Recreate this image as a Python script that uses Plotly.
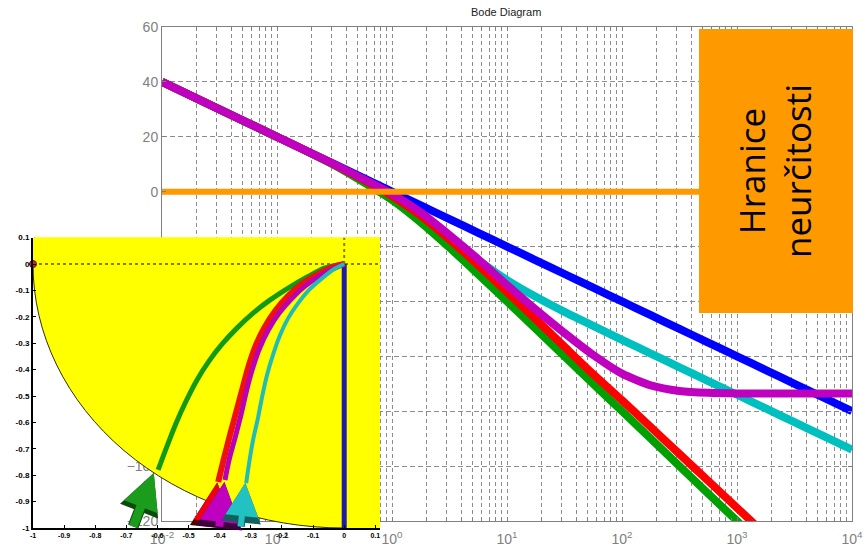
import plotly.graph_objects as go

# ---------------- Bode magnitude data (dB) ----------------
omega = [0.01, 0.0316, 0.1, 0.316, 1.0, 1.78, 3.16, 5.62, 10.0, 17.8, 31.6, 56.2,
         100.0, 178.0, 316.0, 562.0, 1000.0, 1780.0, 3160.0, 5620.0, 10000.0]
mag_blue = [40, 30, 20, 10, 0, -5, -10, -15, -20, -25, -30, -35, -40, -45, -50,
            -55, -60, -65, -70, -75, -80]
mag_cyan = [40.0, 30.0, 20.0, 9.8, -1.5, -8.6, -16.7, -24.9, -32.2, -38.3, -43.8,
            -48.9, -54.0, -59.0, -64.0, -69.0, -74.0, -79.0, -84.0, -89.0, -94.0]
mag_green = [40.0, 30.0, 20.0, 9.6, -3.0, -11.2, -20.4, -30.1, -40.0, -50.0, -60.0,
             -70.0, -80.0, -90.0, -100.0, -110.0, -120.0, -130.0]
mag_red = [40.0, 30.0, 20.0, 9.8, -1.6, -8.8, -17.4, -26.8, -36.6, -46.5, -56.5,
           -66.5, -76.0, -85.8, -95.6, -105.4, -115.2, -125.0]
mag_magenta = [40.0, 30.0, 20.0, 9.9, -0.8, -7.6, -15.8, -24.6, -34.0, -43.0, -51.5,
               -59.5, -66.3, -70.6, -72.6, -73.3, -73.5, -73.5, -73.5, -73.5, -73.5]

# 0 dB uncertainty boundary
limit_w = [0.01, 468.0]
limit_db = [0, 0]

# ---------------- Nyquist inset data ----------------
nyq_blue_re = [0.0, 0.0]
nyq_blue_im = [0.0, -1.0]
nyq_green_re = [0.0, -0.061, -0.119, -0.180, -0.238, -0.293, -0.344, -0.392, -0.434,
                -0.473, -0.508, -0.540, -0.569, -0.598]
nyq_green_im = [0.0, -0.015, -0.049, -0.091, -0.136, -0.186, -0.242, -0.303, -0.367,
                -0.439, -0.519, -0.602, -0.689, -0.780]
nyq_red_re = [0.0, -0.035, -0.084, -0.132, -0.180, -0.222, -0.257, -0.286, -0.309,
              -0.328, -0.347, -0.367, -0.386, -0.405]
nyq_red_im = [0.0, -0.011, -0.038, -0.072, -0.121, -0.178, -0.242, -0.314, -0.394,
              -0.477, -0.561, -0.648, -0.735, -0.826]
nyq_magenta_re = [0.0, -0.029, -0.074, -0.122, -0.167, -0.209, -0.244, -0.273, -0.296,
                  -0.315, -0.331, -0.350, -0.370, -0.383]
nyq_magenta_im = [0.0, -0.015, -0.042, -0.080, -0.129, -0.186, -0.250, -0.322, -0.402,
                  -0.485, -0.568, -0.655, -0.742, -0.818]
nyq_cyan_re = [0.0, -0.032, -0.074, -0.113, -0.148, -0.180, -0.206, -0.228, -0.248,
               -0.264, -0.277, -0.293, -0.305, -0.315]
nyq_cyan_im = [0.0, -0.019, -0.057, -0.098, -0.148, -0.205, -0.269, -0.341, -0.420,
               -0.504, -0.583, -0.667, -0.750, -0.830]

# direction arrows on the Nyquist curves:
# (tip_re, tip_im, tail_re, tail_im, fill colour, edge colour, shaft width, head size)
nyq_arrows = [
    (-0.612, -0.792, -0.680, -1.0, "#1c9c1c", "#0c4a0c", 9, 0.8),
    (-0.408, -0.828, -0.424, -1.0, "#f00010", "#500000", 8, 0.98),
    (-0.385, -0.826, -0.402, -1.0, "#c000c0", "#400040", 8, 1.0),
    (-0.318, -0.830, -0.333, -1.0, "#22c2c2", "#106060", 6, 1.1),
]

W, H = 865, 549
GRAY = "#808080"

fig = go.Figure()

# ---------------- main Bode plot ----------------
bode = [
    (mag_blue, "#0000ff"),
    (mag_cyan, "#00bfbf"),
    (mag_green, "#00a000"),
    (mag_red, "#ff0000"),
    (mag_magenta, "#bf00bf"),
]
for mag, col in bode:
    fig.add_trace(go.Scatter(x=omega[:len(mag)], y=mag, mode="lines",
                             line=dict(color=col, width=8, shape="spline", smoothing=0.6),
                             xaxis="x", yaxis="y", hoverinfo="skip", showlegend=False))

fig.add_trace(go.Scatter(x=limit_w, y=limit_db, mode="lines",
                         line=dict(color="#ff9900", width=6),
                         xaxis="x", yaxis="y", hoverinfo="skip", showlegend=False))

# decade labels, with minor grid at 2..9 of every decade
xtick_vals = [10.0 ** k for k in range(-2, 5)]
xtick_text = ["10<sup>%d</sup>" % k for k in range(-2, 5)]
xminor_vals = [m * 10.0 ** k for k in range(-2, 4) for m in range(2, 10)]
ytick_vals = list(range(-120, 61, 20))

# ---------------- Nyquist inset ----------------
nyq = [
    (nyq_green_re, nyq_green_im, "#139a13", 5),
    (nyq_red_re, nyq_red_im, "#f01010", 6),
    (nyq_magenta_re, nyq_magenta_im, "#b800b8", 5),
    (nyq_cyan_re, nyq_cyan_im, "#22bcb4", 4),
]
fig.add_trace(go.Scatter(x=[-1.0, 0.115], y=[0, 0], mode="lines",
                         line=dict(color="#8a7a00", width=2, dash="dot"),
                         xaxis="x2", yaxis="y2", hoverinfo="skip", showlegend=False))
fig.add_trace(go.Scatter(x=[0, 0], y=[0, 0.1], mode="lines",
                         line=dict(color="#8a7a00", width=2, dash="dot"),
                         xaxis="x2", yaxis="y2", hoverinfo="skip", showlegend=False))
fig.add_trace(go.Scatter(x=nyq_blue_re, y=nyq_blue_im, mode="lines",
                         line=dict(color="#1c1ca8", width=5),
                         xaxis="x2", yaxis="y2", hoverinfo="skip", showlegend=False))
for re_, im_, col, wd in nyq:
    fig.add_trace(go.Scatter(x=re_, y=im_, mode="lines",
                             line=dict(color=col, width=wd, shape="spline", smoothing=1.0),
                             xaxis="x2", yaxis="y2", hoverinfo="skip", showlegend=False))
fig.add_trace(go.Scatter(x=[-1.0], y=[0.0], mode="markers",
                         marker=dict(color="#e02020", size=7, line=dict(color="#602020", width=1)),
                         xaxis="x2", yaxis="y2", hoverinfo="skip", showlegend=False, cliponaxis=False))

inset_x_vals = [-1, -0.9, -0.8, -0.7, -0.6, -0.5, -0.4, -0.3, -0.2, -0.1, 0, 0.1]
inset_x_text = ["-1", "-0.9", "-0.8", "-0.7", "-0.6", "-0.5", "-0.4", "-0.3", "-0.2", "-0.1", "0", "0.1"]
inset_y_vals = [0.1, 0, -0.1, -0.2, -0.3, -0.4, -0.5, -0.6, -0.7, -0.8, -0.9, -1]
inset_y_text = ["0.1", "0", "-0.1", "-0.2", "-0.3", "-0.4", "-0.5", "-0.6", "-0.7", "-0.8", "-0.9", "-1"]

shapes = [
    # stability region of the Nyquist inset (unit disc)
    dict(type="circle", xref="x2", yref="y2", x0=-1, y0=-1, x1=1, y1=1,
         fillcolor="#ffff00", line=dict(color="#303000", width=1), layer="below"),
    dict(type="rect", xref="x2", yref="y2", x0=0, y0=-1, x1=0.2, y1=0.2,
         fillcolor="#ffff00", line=dict(width=0), layer="below"),
    dict(type="rect", xref="x2", yref="y2", x0=-1.1, y0=0, x1=0.2, y1=0.2,
         fillcolor="#ffff00", line=dict(width=0), layer="below"),
    # uncertainty band box
    dict(type="rect", xref="paper", yref="paper",
         x0=699 / W, x1=853 / W, y0=1 - 313 / H, y1=1 - 29 / H,
         fillcolor="#ff9900", line=dict(width=0), layer="above"),
]

annotations = [
    dict(text="Bode Diagram", x=506 / W, y=1 - 12 / H, xref="paper", yref="paper",
         xanchor="center", yanchor="middle",
         showarrow=False, font=dict(family="Liberation Sans", size=11, color="#222222")),
    dict(text="Hranice<br>neurčitosti", x=774 / W, y=1 - 171 / H, xref="paper", yref="paper",
         xanchor="center", yanchor="middle",
         showarrow=False, textangle=-90,
         font=dict(family="Open Sans", size=35, color="#000000")),
]
for tx, ty, sx, sy, col, edge, wd, sz in nyq_arrows:
    # dark rim first, coloured arrow on top
    for c, w, s in ((edge, wd + 2, sz * (wd + 1.2) / (wd + 2)), (col, wd, sz)):
        annotations.append(dict(x=tx, y=ty, ax=sx, ay=sy, xref="x2", yref="y2",
                                axref="x2", ayref="y2", text="", showarrow=True,
                                arrowhead=2, arrowsize=s, arrowwidth=w, arrowcolor=c,
                                standoff=0))

fig.update_layout(
    width=W, height=H,
    margin=dict(l=0, r=0, t=0, b=0, autoexpand=False),
    paper_bgcolor="white",
    plot_bgcolor="rgba(0,0,0,0)",
    showlegend=False,
    shapes=shapes,
    annotations=annotations,
    xaxis=dict(type="log", range=[-2, 4], domain=[162 / W, 852 / W], anchor="y",
               automargin=False,
               tickvals=xtick_vals, ticktext=xtick_text, ticklabelstandoff=5,
               tickfont=dict(family="Liberation Sans", size=14, color=GRAY),
               showgrid=True, gridcolor="#8c8c8c", gridwidth=1, griddash="4px,3px",
               minor=dict(tickvals=xminor_vals, showgrid=True, gridcolor="#8c8c8c",
                          gridwidth=1, griddash="4px,3px", ticks="inside", ticklen=3,
                          tickcolor=GRAY),
               showline=True, linecolor=GRAY, linewidth=1, mirror="ticks",
               ticks="inside", ticklen=4, tickcolor=GRAY, zeroline=False),
    yaxis=dict(range=[-120, 60], domain=[1 - 521 / H, 1 - 27 / H], anchor="x",
               automargin=False,
               tickvals=ytick_vals,
               tickfont=dict(family="Liberation Sans", size=14, color=GRAY),
               showgrid=True, gridcolor="#8c8c8c", gridwidth=1, griddash="5px,3px",
               showline=True, linecolor=GRAY, linewidth=1, mirror="ticks",
               ticks="inside", ticklen=4, tickcolor=GRAY, zeroline=False),
    xaxis2=dict(range=[-1, 0.115], domain=[33 / W, 380 / W], anchor="y2",
                automargin=False,
                tickvals=inset_x_vals, ticktext=inset_x_text,
                tickfont=dict(family="Liberation Sans", size=7, color="#000000", weight="bold"),
                showgrid=False, zeroline=False, showline=True, linecolor="#000000",
                linewidth=2, ticks="inside", ticklen=3, tickcolor="#000000"),
    yaxis2=dict(range=[-1, 0.1], domain=[1 - 528 / H, 1 - 237.6 / H], anchor="x2",
                automargin=False,
                tickvals=inset_y_vals, ticktext=inset_y_text,
                tickfont=dict(family="Liberation Sans", size=8, color="#000000", weight="bold"),
                showgrid=False, zeroline=False, showline=True, linecolor="#000000",
                linewidth=2, ticks="inside", ticklen=3, tickcolor="#000000"),
)

fig.write_html("out.html")
